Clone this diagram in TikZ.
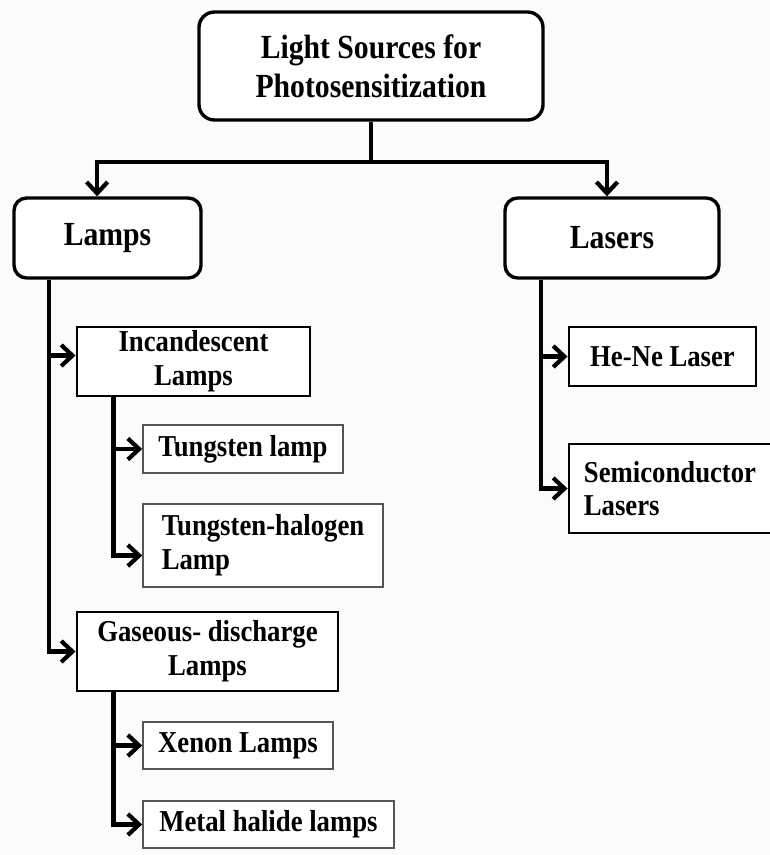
\documentclass[tikz,border=0pt]{standalone}
\usepackage{fontspec}
\setmainfont{Liberation Serif}[FakeStretch=0.88]
\usetikzlibrary{arrows.meta, positioning, calc}
\definecolor{bgcolor}  {RGB}{251, 251, 251}
\definecolor{leafline} {RGB}{ 85,  85,  85}
\tikzset{
	baseblock/.style={
		rectangle, align=center, fill=white, inner sep=2pt,
		font=\fontsize{21.6}{24}\selectfont\bfseries
	},
	headblock/.style={
		baseblock, rounded corners=9pt,
		draw=black, line width=2.4pt,
		font=\fontsize{24}{28}\selectfont\bfseries
	},
	midblock/.style={
		baseblock, draw=black, line width=2.1pt
	},
	leafblock/.style={
		baseblock, draw=leafline, line width=1.2pt
	},
	arrow/.style={
		-{Straight Barb[length=8pt, width=15pt]}, line width=3pt, color=black
	}
}

\begin{document}
\begin{tikzpicture}
		\useasboundingbox[fill=bgcolor] (0,0) rectangle (19.25,-21.375);
		
		%% ═══════════════════════════════
		%%  ROW 1 — root
		%% ═══════════════════════════════
		\node[headblock, rounded corners=11pt,
		minimum width=8.6cm, minimum height=2.7cm] (root) at (9.275,-1.65)
		{Light Sources for\\Photosensitization};
		
		%% ═══════════════════════════════
		%%  ROW 2 — Lamps / Lasers
		%% ═══════════════════════════════
		\node[headblock, minimum width=4.675cm, minimum height=2cm] (lamps) at (2.6875,-5.95) {Lamps};
		\node[headblock, minimum width=5.35cm, minimum height=2cm] (lasers) at (15.3,-5.95) {Lasers};
		
		%% ═══════════════════════════════
		%%  LAMPS branch
		%% ═══════════════════════════════
		\node[midblock, minimum width=5.825cm, minimum height=1.725cm] (incand) at (4.8375,-9.0375)
		{Incandescent\\Lamps};
		\node[leafblock, minimum width=5cm, minimum height=1.2cm] (tungsten) at (6.075,-11.225)
		{Tungsten lamp};
		\node[leafblock, align=left, minimum width=6cm, minimum height=2.075cm] (halogen) at (6.575,-13.6375)
		{Tungsten-halogen\\Lamp};
		
		\node[midblock, minimum width=6.525cm, minimum height=1.975cm] (gaseous) at (5.1875,-16.2875)
		{Gaseous- discharge\\Lamps};
		\node[leafblock, minimum width=4.75cm, minimum height=1.175cm] (xenon) at (5.95,-18.6375)
		{Xenon Lamps};
		\node[leafblock, minimum width=6.275cm, minimum height=1.175cm] (metal) at (6.7125,-20.6125)
		{Metal halide lamps};
		
		%% ═══════════════════════════════
		%%  LASERS branch
		%% ═══════════════════════════════
		\node[midblock, minimum width=4.675cm, minimum height=1.475cm] (hene) at (16.5625,-8.9125)
		{He-Ne Laser};
		\node[midblock, align=left, minimum width=5.05cm, minimum height=2.225cm] (semi) at (16.75,-12.2125)
		{Semiconductor\\Lasers};
		
		%% ═══════════════════════════════
		%%  ARROWS
		%% ═══════════════════════════════
		
		% root → Lamps, Lasers
		\draw[arrow] (root.south) -- ++(0,-1) -| ([xshift=-0.26cm]lamps.north);
		\draw[arrow] (root.south) -- ++(0,-1) -| ([xshift=-0.125cm]lasers.north);
		
		% Lamps → Incandescent, Gaseous
		\draw[arrow] ([xshift=0.925cm]lamps.south west) |- ([yshift=0.15cm]incand.west);
		\draw[arrow] ([xshift=0.925cm]lamps.south west) |- (gaseous.west);
		
		% Incandescent → Tungsten, Tungsten-halogen
		\draw[arrow] ([xshift=0.95cm]incand.south west) |- (tungsten.west);
		\draw[arrow] ([xshift=0.95cm]incand.south west) |- ([yshift=-0.25cm]halogen.west);
		
		% Gaseous → Xenon, Metal halide
		\draw[arrow] ([xshift=0.95cm]gaseous.south west) |- (xenon.west);
		\draw[arrow] ([xshift=0.95cm]gaseous.south west) |- (metal.west);
		
		% Lasers → He-Ne, Semiconductor
		\draw[arrow] ([xshift=0.95cm]lasers.south west) |- (hene.west);
		\draw[arrow] ([xshift=0.95cm]lasers.south west) |- (semi.west);
		
	\end{tikzpicture}
\end{document}
